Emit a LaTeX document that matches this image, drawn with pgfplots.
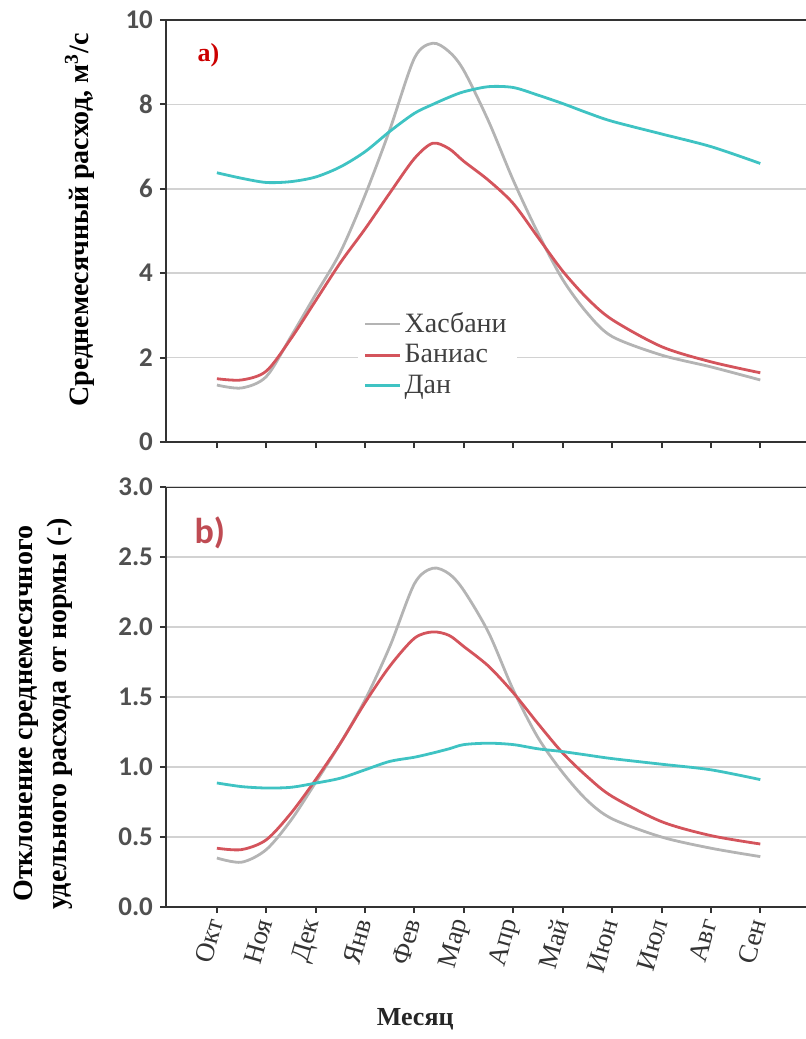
\documentclass[border=0pt]{standalone}
\usepackage{fontspec}
\setmainfont{Liberation Serif}
\newfontfamily\carlito{Carlito}
\usepackage{pgfplots}
\pgfplotsset{compat=1.18}

\definecolor{hasb}{HTML}{B4B4B4}
\definecolor{ban}{HTML}{D4545C}
\definecolor{dan}{HTML}{3FC3C3}
\definecolor{ticktxt}{HTML}{505050}
\definecolor{gridc}{HTML}{D2D2D2}

\tikzset{topline/.style={draw=black!80, line width=1.1pt}}

% shared look of both panels; the frame runs past the right edge of the page
\pgfplotsset{
  riv/.style={
    scale only axis, width=322pt,
    xmin=-1.03, xmax=12.006,
    axis lines*=left,
    xtick={0,...,11},
    tick align=outside, major tick length=3pt,
    axis line style={draw=black!80, line width=1.1pt},
    tick style={draw=black!80, line width=1pt},
    ymajorgrids, grid style={gridc, line width=0.8pt},
    /pgf/number format/assume math mode=true,
    yticklabel style={font=\carlito\bfseries\fontsize{13.5}{15}\selectfont, text=ticktxt},
    ylabel style={font=\bfseries\fontsize{14}{17}\selectfont},
    every axis plot/.append style={smooth, line width=1.4pt, no marks},
  },
}

\pgfplotstableread{
x     hasb  ban   dan
0     1.35  1.50  6.38
0.5   1.28  1.47  6.25
1     1.55  1.68  6.15
1.5   2.50  2.45  6.17
2     3.50  3.35  6.28
2.5   4.50  4.25  6.52
3     5.85  5.05  6.88
3.5   7.40  5.90  7.36
4     9.10  6.72  7.79
4.37  9.45  7.08  8.00
4.7   9.25  6.95  8.17
5     8.80  6.65  8.30
5.5   7.60  6.20  8.42
6     6.20  5.65  8.40
6.5   4.95  4.85  8.22
7     3.85  4.05  8.02
7.5   3.05  3.40  7.80
8     2.50  2.90  7.60
9     2.06  2.26  7.30
10    1.78  1.90  7.00
11    1.47  1.64  6.60
}\topdata

\pgfplotstableread{
x     hasb  ban   dan
0     0.35  0.42  0.886
0.5   0.32  0.41  0.86
1     0.41  0.48  0.85
1.5   0.62  0.67  0.855
2     0.89  0.91  0.885
2.5   1.17  1.17  0.92
3     1.48  1.46  0.98
3.5   1.86  1.72  1.04
4     2.31  1.92  1.07
4.37  2.42  1.965 1.10
4.7   2.38  1.94  1.13
5     2.26  1.86  1.16
5.5   1.96  1.72  1.17
6     1.55  1.53  1.16
6.5   1.21  1.31  1.13
7     0.96  1.10  1.11
7.5   0.76  0.93  1.085
8     0.63  0.79  1.06
9     0.50  0.61  1.02
10    0.42  0.51  0.98
11    0.36  0.45  0.91
}\botdata

\begin{document}
\begin{tikzpicture}
\useasboundingbox (-83pt,-298.5pt) rectangle (319.5pt,221pt);

\begin{axis}[riv, name=top, at={(0,0)}, anchor=south west,
  height=211pt,
  ymin=0, ymax=10, ytick={0,2,...,10},
  xticklabels={},
  ylabel={Среднемесячный расход, м\textsuperscript{3}/с},
  ylabel style={at={(axis description cs:-0.134,0.526)}, anchor=center},
  legend style={at={(0.297,0.327)}, anchor=north west, draw=none, fill=white,
    font=\fontsize{14}{16}\selectfont, text=black!75, row sep=0.5pt},
  legend cell align=left]
  \addplot[hasb] table[x=x, y=hasb] {\topdata};
  \addlegendentry{Хасбани}
  \addplot[ban] table[x=x, y=ban] {\topdata};
  \addlegendentry{Баниас}
  \addplot[dan] table[x=x, y=dan] {\topdata};
  \addlegendentry{Дан}
  \draw[topline] (rel axis cs:0,1) -- (rel axis cs:1,1);
  \node[text=red!80!black, font=\bfseries\fontsize{13}{15}\selectfont]
    at (rel axis cs:0.066,0.917) {a)};
\end{axis}

\begin{axis}[riv, at={(0,-22.5pt)}, anchor=north west,
  height=210pt,
  ymin=0, ymax=3, ytick={0,0.5,...,3},
  yticklabel style={/pgf/number format/.cd, fixed, fixed zerofill, precision=1},
  xticklabels={Окт,Ноя,Дек,Янв,Фев,Мар,Апр,Май,Июн,Июл,Авг,Сен},
  xticklabel style={rotate=74, anchor=east, text=black!80,
    font=\fontsize{13.5}{15}\selectfont},
  ylabel={Отклонение среднемесячного\\удельного расхода от нормы (-)},
  ylabel style={align=center, at={(axis description cs:-0.19,0.46)}, anchor=center},
  xlabel={Месяц},
  xlabel style={at={(rel axis cs:0.387,0)}, anchor=center, yshift=-56pt,
    font=\bfseries\fontsize{13}{15}\selectfont, text=black!85}]
  \addplot[hasb] table[x=x, y=hasb] {\botdata};
  \addplot[ban] table[x=x, y=ban] {\botdata};
  \addplot[dan] table[x=x, y=dan] {\botdata};
  \draw[topline] (rel axis cs:0,1) -- (rel axis cs:1,1);
  \node[text=ban!90!black, font=\carlito\bfseries\fontsize{18}{20}\selectfont]
    at (rel axis cs:0.068,0.89) {b)};
\end{axis}
\end{tikzpicture}
\end{document}
